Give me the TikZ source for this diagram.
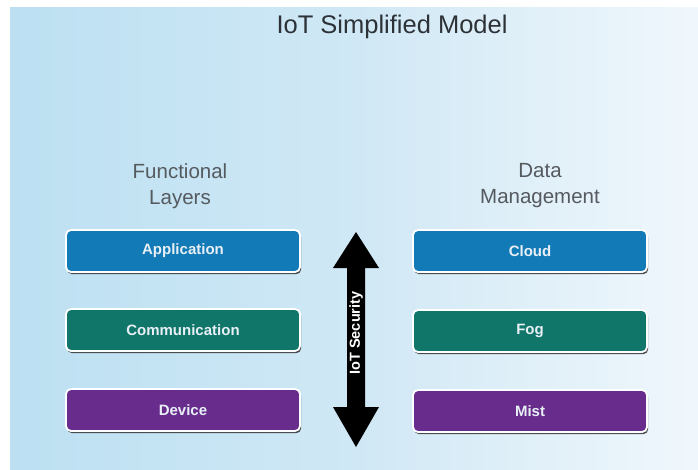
\documentclass[tikz,border=0pt]{standalone}
\usepackage{fontspec}
\setmainfont{Liberation Sans}
\usetikzlibrary{shadows}
\definecolor{bgL}{RGB}{188,224,242}
\definecolor{bgM}{RGB}{208,232,245}
\definecolor{bgR}{RGB}{240,247,252}
\definecolor{appblue}{RGB}{18,122,182}
\definecolor{commteal}{RGB}{16,118,106}
\definecolor{devpurple}{RGB}{104,44,140}
\definecolor{titlegray}{RGB}{45,50,55}
\definecolor{labgray}{RGB}{85,90,95}
\definecolor{boxtext}{RGB}{232,240,246}
\tikzset{
  layerbox/.style={draw=white, line width=1.8pt, rounded corners=5pt,
    minimum width=234pt, minimum height=42pt, inner sep=0pt,
    font=\fontsize{15}{17}\selectfont\bfseries, text=boxtext,
    drop shadow={shadow xshift=1.2pt, shadow yshift=-2.2pt, fill=black!80, opacity=0.85}},
  collabel/.style={font=\fontsize{20.5}{26}\selectfont, text=labgray, align=center},
}
\begin{document}
\begin{tikzpicture}[x=1pt,y=-1pt]
\useasboundingbox (0,0) rectangle (698,469);
\fill[white] (0,0) rectangle (698,469);
\shade[left color=bgL, right color=bgM] (10,7) rectangle (360,469);
\shade[left color=bgM, right color=bgR] (360,7) rectangle (698,469);
\node[font=\fontsize{25.5}{28}\selectfont, text=titlegray] (title) at (392,27) {IoT Simplified Model};
\node[collabel] (fl) at (180,186) {Functional\\Layers};
\node[collabel] (dm) at (540,186) {Data\\Management};
\node[layerbox, fill=appblue] (app) at (183,251) {Application};
\node[layerbox, fill=commteal] (comm) at (183,330) {Communication};
\node[layerbox, fill=devpurple] (dev) at (183,410) {Device};
\node[layerbox, fill=appblue] (cloud) at (530,251) {Cloud};
\node[layerbox, fill=commteal] (fog) at (530,331) {Fog};
\node[layerbox, fill=devpurple] (mist) at (530,411) {Mist};
\fill[black] (356,232) -- (379,268) -- (365,268) -- (365,407) -- (379,407) -- (356,447)
  -- (333,407) -- (347,407) -- (347,268) -- (333,268) -- cycle;
\node[rotate=90, font=\fontsize{14.5}{16}\selectfont\bfseries, text=white] (sec) at (356,333) {IoT Security};
\end{tikzpicture}
\end{document}
